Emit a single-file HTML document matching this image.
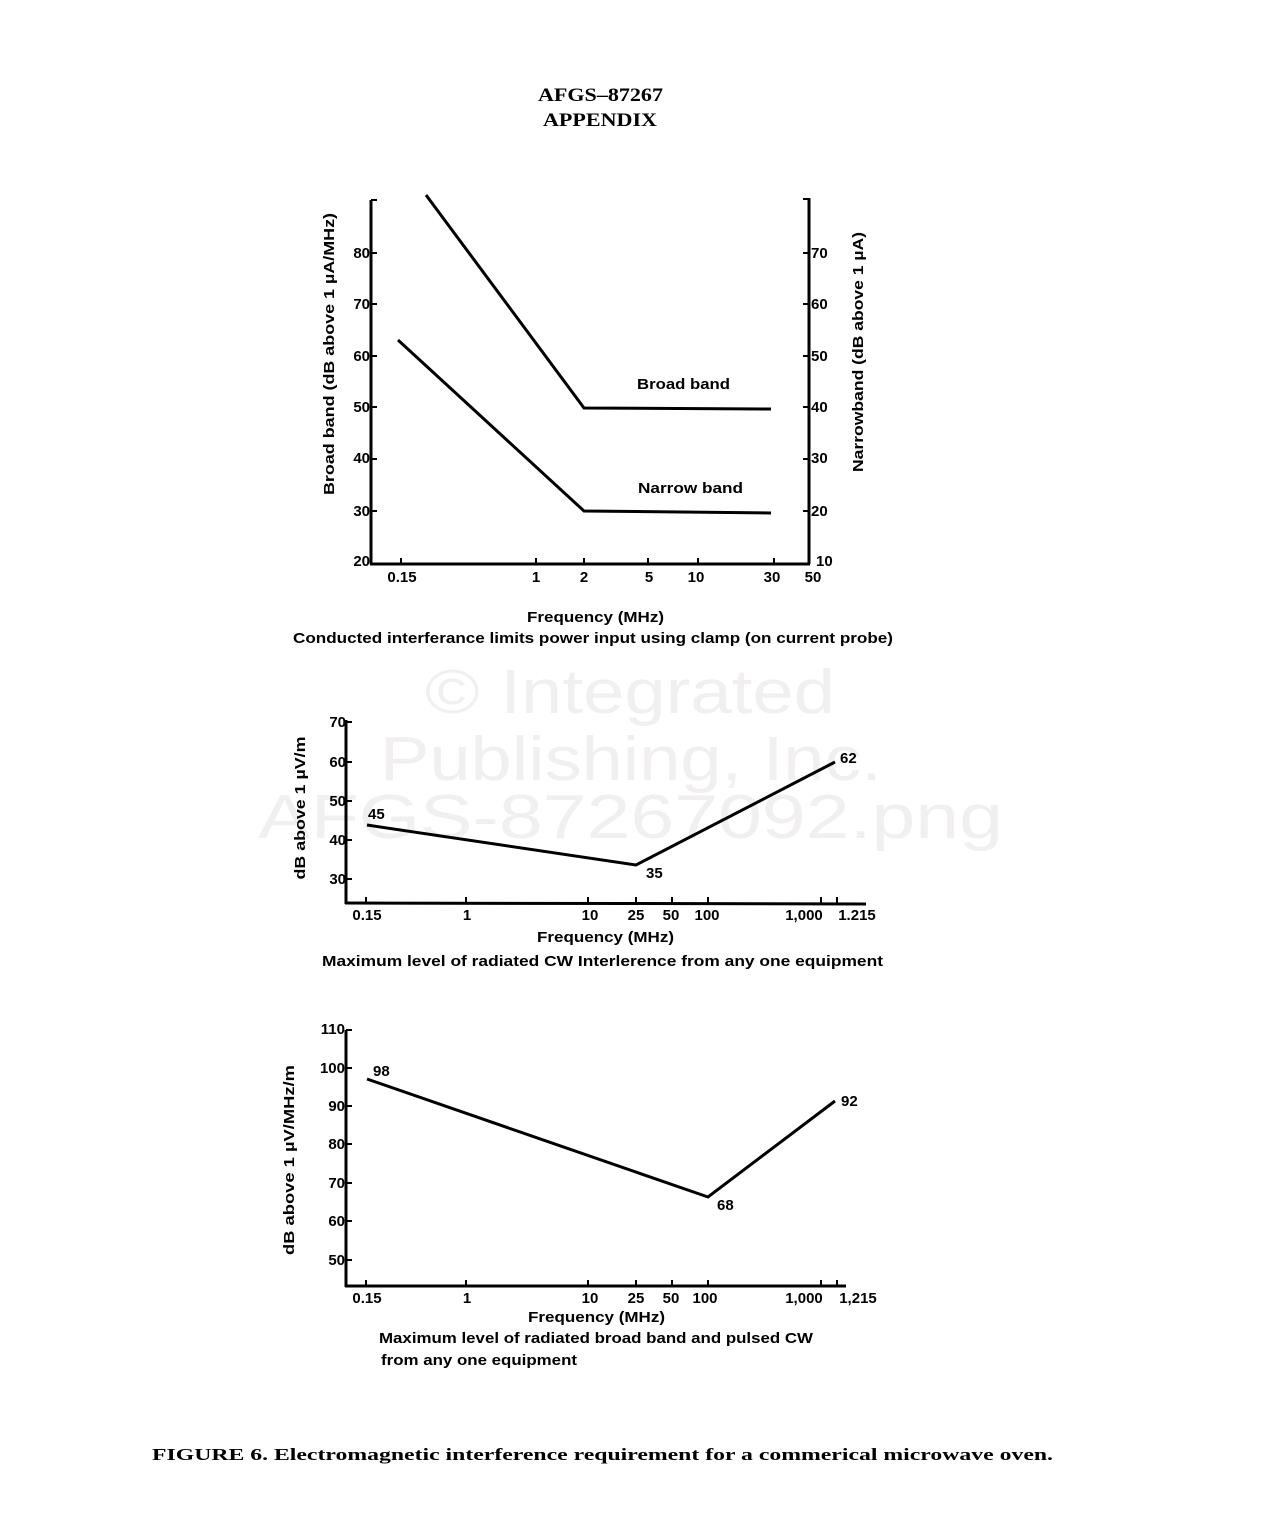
<!DOCTYPE html>
<html><head><meta charset="utf-8"><style>
html,body{margin:0;padding:0;background:#fff;}
svg{display:block;}
.t{font-family:"Liberation Sans",sans-serif;font-size:15px;font-weight:bold;fill:#000;}
.s{font-family:"Liberation Serif",serif;font-weight:bold;fill:#000;}
.w{font-family:"Liberation Sans",sans-serif;font-size:62px;fill:#f1efef;}
line,polyline,path{stroke:#000;fill:none;}
</style></head><body>
<svg width="1268" height="1516" viewBox="0 0 1268 1516" xmlns="http://www.w3.org/2000/svg">
<text class="s" x="538" y="101" font-size="19" textLength="125" lengthAdjust="spacingAndGlyphs">AFGS–87267</text>
<text class="s" x="543" y="126" font-size="19" textLength="114" lengthAdjust="spacingAndGlyphs">APPENDIX</text>

<text class="w" x="425" y="713" textLength="410" lengthAdjust="spacingAndGlyphs">© Integrated</text>
<text class="w" x="380" y="780" textLength="502" lengthAdjust="spacingAndGlyphs">Publishing, Inc.</text>
<text class="w" x="258" y="838" textLength="745" lengthAdjust="spacingAndGlyphs">AFGS-87267092.png</text>

<!-- Chart 1 -->
<g stroke-width="3">
<line x1="371" y1="200" x2="371" y2="564"/>
<line x1="370" y1="564" x2="810" y2="564"/>
<line x1="809" y1="198" x2="809" y2="564"/>
</g>
<g stroke-width="2">
<line x1="371" y1="200" x2="377" y2="200"/>
<line x1="371" y1="253" x2="377" y2="253"/>
<line x1="371" y1="304" x2="377" y2="304"/>
<line x1="371" y1="356" x2="377" y2="356"/>
<line x1="371" y1="407" x2="377" y2="407"/>
<line x1="371" y1="459" x2="377" y2="459"/>
<line x1="371" y1="511" x2="377" y2="511"/>
<line x1="803" y1="199" x2="809" y2="199"/>
<line x1="803" y1="253" x2="809" y2="253"/>
<line x1="803" y1="304" x2="809" y2="304"/>
<line x1="803" y1="356" x2="809" y2="356"/>
<line x1="803" y1="407" x2="809" y2="407"/>
<line x1="803" y1="459" x2="809" y2="459"/>
<line x1="803" y1="511" x2="809" y2="511"/>
<line x1="401" y1="558" x2="401" y2="564"/>
<line x1="536" y1="558" x2="536" y2="564"/>
<line x1="584" y1="558" x2="584" y2="564"/>
<line x1="648" y1="558" x2="648" y2="564"/>
<line x1="698" y1="558" x2="698" y2="564"/>
<line x1="774" y1="558" x2="774" y2="564"/>
</g>
<g class="t" text-anchor="end">
<text x="370" y="258">80</text><text x="370" y="309">70</text><text x="370" y="361">60</text>
<text x="370" y="412">50</text><text x="370" y="463">40</text><text x="370" y="516">30</text><text x="370" y="566">20</text>
</g>
<g class="t">
<text x="811" y="258">70</text><text x="811" y="309">60</text><text x="811" y="361">50</text>
<text x="811" y="412">40</text><text x="811" y="463">30</text><text x="811" y="516">20</text><text x="816" y="566">10</text>
</g>
<g class="t" text-anchor="middle">
<text x="402" y="582">0.15</text><text x="536" y="582">1</text><text x="584" y="582">2</text>
<text x="649" y="582">5</text><text x="696" y="582">10</text><text x="772" y="582">30</text><text x="813" y="582">50</text>
</g>
<polyline stroke-width="3" points="426,195 584,408 771,409"/>
<polyline stroke-width="3" points="398,340 584,511 771,513"/>
<text class="t" x="637" y="389" textLength="93" lengthAdjust="spacingAndGlyphs">Broad band</text>
<text class="t" x="638" y="493" textLength="105" lengthAdjust="spacingAndGlyphs">Narrow band</text>
<text class="t" transform="translate(334,354) rotate(-90)" text-anchor="middle" textLength="282" lengthAdjust="spacingAndGlyphs">Broad band (dB above 1 µA/MHz)</text>
<text class="t" transform="translate(863,352) rotate(-90)" text-anchor="middle" textLength="240" lengthAdjust="spacingAndGlyphs">Narrowband (dB above 1 µA)</text>
<text class="t" x="527" y="622" textLength="137" lengthAdjust="spacingAndGlyphs">Frequency (MHz)</text>
<text class="t" x="293" y="643" textLength="600" lengthAdjust="spacingAndGlyphs">Conducted interferance limits power input using clamp (on current probe)</text>

<!-- Chart 2 -->
<g stroke-width="3">
<line x1="346" y1="720" x2="346" y2="904"/>
<line x1="345" y1="903" x2="866" y2="904"/>
</g>
<g stroke-width="2">
<line x1="346" y1="722" x2="352" y2="722"/>
<line x1="346" y1="762" x2="352" y2="762"/>
<line x1="346" y1="801" x2="352" y2="801"/>
<line x1="346" y1="840" x2="352" y2="840"/>
<line x1="346" y1="879" x2="352" y2="879"/>
<line x1="366" y1="897" x2="366" y2="903"/>
<line x1="466" y1="897" x2="466" y2="903"/>
<line x1="588" y1="897" x2="588" y2="903"/>
<line x1="636" y1="897" x2="636" y2="903"/>
<line x1="672" y1="897" x2="672" y2="903"/>
<line x1="708" y1="897" x2="708" y2="903"/>
<line x1="821" y1="897" x2="821" y2="903"/>
<line x1="837" y1="897" x2="837" y2="903"/>
</g>
<g class="t" text-anchor="end">
<text x="346" y="727">70</text><text x="346" y="767">60</text><text x="346" y="806">50</text>
<text x="346" y="845">40</text><text x="346" y="884">30</text>
</g>
<g class="t" text-anchor="middle">
<text x="367" y="920">0.15</text><text x="467" y="920">1</text><text x="590" y="920">10</text>
<text x="636" y="920">25</text><text x="671" y="920">50</text><text x="707" y="920">100</text>
<text x="804" y="920">1,000</text><text x="857" y="920">1.215</text>
</g>
<polyline stroke-width="3" points="367,825 636,865 835,762"/>
<text class="t" x="368" y="819">45</text>
<text class="t" x="646" y="878">35</text>
<text class="t" x="840" y="763">62</text>
<text class="t" transform="translate(305,808) rotate(-90)" text-anchor="middle" textLength="143" lengthAdjust="spacingAndGlyphs">dB above 1 µV/m</text>
<text class="t" x="537" y="942" textLength="137" lengthAdjust="spacingAndGlyphs">Frequency (MHz)</text>
<text class="t" x="322" y="966" textLength="561" lengthAdjust="spacingAndGlyphs">Maximum level of radiated CW Interlerence from any one equipment</text>

<!-- Chart 3 -->
<g stroke-width="3">
<line x1="346" y1="1030" x2="346" y2="1287"/>
<line x1="345" y1="1286" x2="846" y2="1286"/>
</g>
<g stroke-width="2">
<line x1="346" y1="1030" x2="352" y2="1030"/>
<line x1="346" y1="1068" x2="352" y2="1068"/>
<line x1="346" y1="1106" x2="352" y2="1106"/>
<line x1="346" y1="1144" x2="352" y2="1144"/>
<line x1="346" y1="1183" x2="352" y2="1183"/>
<line x1="346" y1="1221" x2="352" y2="1221"/>
<line x1="346" y1="1260" x2="352" y2="1260"/>
<line x1="366" y1="1280" x2="366" y2="1286"/>
<line x1="466" y1="1280" x2="466" y2="1286"/>
<line x1="588" y1="1280" x2="588" y2="1286"/>
<line x1="636" y1="1280" x2="636" y2="1286"/>
<line x1="672" y1="1280" x2="672" y2="1286"/>
<line x1="708" y1="1280" x2="708" y2="1286"/>
<line x1="821" y1="1280" x2="821" y2="1286"/>
<line x1="837" y1="1280" x2="837" y2="1286"/>
</g>
<g class="t" text-anchor="end">
<text x="345" y="1034">110</text><text x="345" y="1073">100</text><text x="345" y="1111">90</text>
<text x="345" y="1149">80</text><text x="345" y="1188">70</text><text x="345" y="1226">60</text><text x="345" y="1265">50</text>
</g>
<g class="t" text-anchor="middle">
<text x="367" y="1303">0.15</text><text x="467" y="1303">1</text><text x="590" y="1303">10</text>
<text x="636" y="1303">25</text><text x="671" y="1303">50</text><text x="705" y="1303">100</text>
<text x="804" y="1303">1,000</text><text x="858" y="1303">1,215</text>
</g>
<polyline stroke-width="3" points="367,1079 708,1197 835,1101"/>
<text class="t" x="373" y="1076">98</text>
<text class="t" x="717" y="1210">68</text>
<text class="t" x="841" y="1106">92</text>
<text class="t" transform="translate(294,1160) rotate(-90)" text-anchor="middle" textLength="190" lengthAdjust="spacingAndGlyphs">dB above 1 µV/MHz/m</text>
<text class="t" x="528" y="1322" textLength="137" lengthAdjust="spacingAndGlyphs">Frequency (MHz)</text>
<text class="t" x="379" y="1343" textLength="434" lengthAdjust="spacingAndGlyphs">Maximum level of radiated broad band and pulsed CW</text>
<text class="t" x="381" y="1365" textLength="196" lengthAdjust="spacingAndGlyphs">from any one equipment</text>

<text class="s" x="152" y="1460" font-size="17" textLength="901" lengthAdjust="spacingAndGlyphs">FIGURE 6.  Electromagnetic interference requirement for a commerical microwave oven.</text>
</svg>
</body></html>
